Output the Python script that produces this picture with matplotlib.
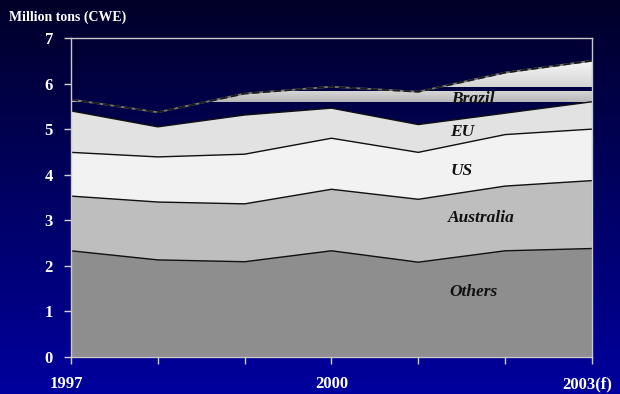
import numpy as np
import matplotlib.pyplot as plt
from matplotlib.transforms import ScaledTranslation

# Stacked layers, million tons CWE
years = np.array([1997, 1998, 1999, 2000, 2001, 2002, 2003])
year_labels = ['1997', '', '', '2000', '', '', '2003(f)']
others = np.array([2.33, 2.13, 2.09, 2.33, 2.08, 2.33, 2.38])
australia = np.array([1.20, 1.27, 1.27, 1.35, 1.38, 1.42, 1.49])
us = np.array([0.96, 0.99, 1.09, 1.12, 1.03, 1.13, 1.13])
eu = np.array([0.91, 0.66, 0.86, 0.66, 0.61, 0.47, 0.60])
brazil = np.array([0.25, 0.32, 0.47, 0.47, 0.72, 0.89, 0.90])

layer_names = ['Others', 'Australia', 'US', 'EU', 'Brazil']
layer_colors = ['#8e8e8e', '#bebebe', '#f2f2f2', '#e2e2e2']

SERIF = 'Liberation Serif'

fig = plt.figure(figsize=(6.2, 3.94), dpi=100)

# navy-to-blue backdrop behind everything
bg = fig.add_axes([0, 0, 1, 1], zorder=-1)
t = np.linspace(0, 1, 256)[:, None]
top_c = np.array([0.0, 0.0, 0.16])
bot_c = np.array([0.0, 0.0, 0.62])
grad = top_c * (1 - t[..., None]) + bot_c * t[..., None]
grad = np.repeat(grad, 2, axis=1)
bg.imshow(grad, aspect='auto', extent=[0, 1, 0, 1], origin='upper')
bg.set_axis_off()

ax = fig.add_axes([0.1145, 0.094, 0.8403, 0.8096])
ax.set_facecolor('none')

layers = [others, australia, us, eu, brazil]
tops = np.cumsum(layers, axis=0)
bottoms = np.vstack([np.zeros_like(others), tops[:-1]])

for i, col in enumerate(layer_colors):
    ax.fill_between(years, bottoms[i], tops[i], facecolor=col,
                    edgecolor='none', zorder=1)

# Brazil layer: banded gradient fill clipped to the layer outline
brz = ax.fill_between(years, bottoms[4], tops[4], facecolor='none',
                      edgecolor='none', zorder=1)
ny = 1400
yy = np.linspace(0, 7, ny)
img = np.zeros((ny, 2, 4))
band = (yy >= 5.60) & (yy < 5.84)
f = (yy[band] - 5.60) / 0.24
img[band, :, :3] = (0.72 + 0.12 * f)[:, None, None]
img[band, :, 3] = 1
upper = yy >= 5.92
f = np.clip((yy[upper] - 5.92) / 0.6, 0, 1)
img[upper, :, :3] = (0.83 + 0.14 * f)[:, None, None]
img[upper, :, 3] = 1
im = ax.imshow(img, extent=[1997, 2003, 0, 7], origin='lower',
               aspect='auto', zorder=1.5, interpolation='nearest')
im.set_clip_path(brz.get_paths()[0], ax.transData)

# boundary lines
for i in range(4):
    ax.plot(years, tops[i], color='#111111', lw=1.0, zorder=2)
ax.plot(years, tops[4], color='#777777', lw=1.3, zorder=2)
ax.plot(years, tops[4], color='#1a1a1a', lw=1.3, ls=(0, (4, 2)), zorder=2.1)

# series labels
label_y = [1.43, 3.05, 4.08, 4.94, 5.66]
label_x = [2001.63, 2001.73, 2001.5, 2001.5, 2001.63]
for name, x, y in zip(layer_names, label_x, label_y):
    ax.text(x, y, name, family=SERIF, fontsize=12.5, fontweight='bold',
            fontstyle='italic', color='#111111', ha='center', va='center',
            zorder=3)

ax.set_xlim(1997, 2003)
ax.set_ylim(0, 7)
ax.set_xticks(years)
ax.set_xticklabels(year_labels)
ax.set_yticks(range(0, 8))

for sp in ax.spines.values():
    sp.set_color('#c8c8c8')
    sp.set_linewidth(1.0)
    sp.set_zorder(4)

ax.tick_params(axis='both', colors='#d0d0d0', length=5, width=1,
               direction='out', labelcolor='white')
ax.tick_params(axis='x', pad=9)
ax.tick_params(axis='y', pad=8)
for lab in ax.get_xticklabels() + ax.get_yticklabels():
    lab.set_fontfamily(SERIF)
    lab.set_fontweight('bold')
    lab.set_fontsize(12)

# nudge the end year labels slightly left
xlabs = ax.get_xticklabels()
shift = ScaledTranslation(-5 / 100, 0, fig.dpi_scale_trans)
for lab in (xlabs[0], xlabs[-1]):
    lab.set_transform(lab.get_transform() + shift)

fig.text(0.014, 0.957, 'Million tons (CWE)', family=SERIF, fontsize=10,
         fontweight='bold', color='white', ha='left', va='center')

fig.savefig('out.png', dpi=100)
